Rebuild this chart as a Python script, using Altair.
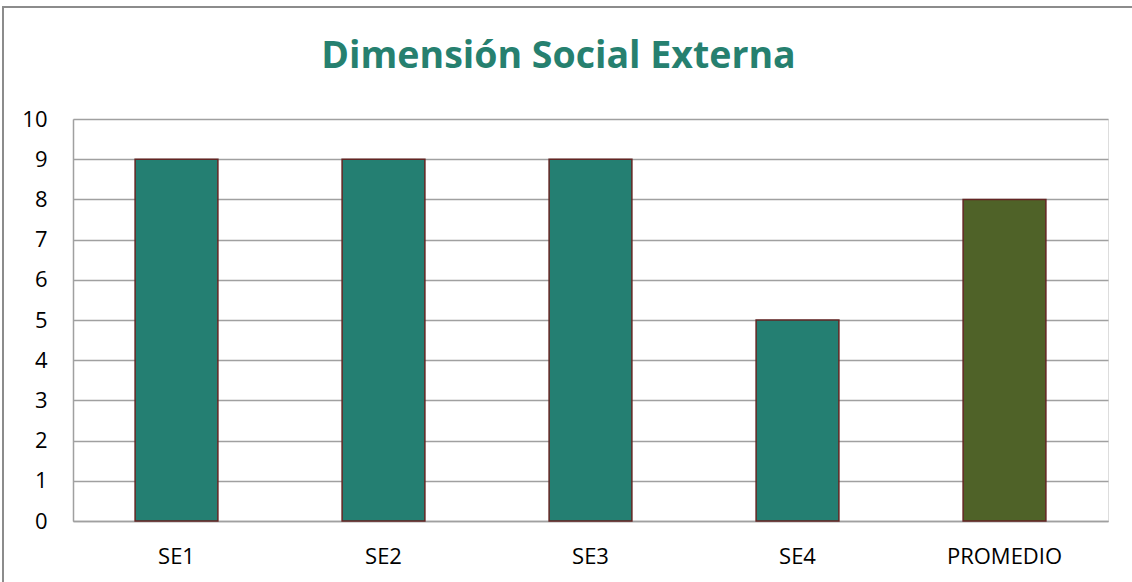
import altair as alt
import pandas as pd

categories = ["SE1", "SE2", "SE3", "SE4", "PROMEDIO"]
values = [9, 9, 9, 5, 8]
groups = ["item", "item", "item", "item", "promedio"]
y_ticks = list(range(0, 11))

df = pd.DataFrame({"cat": categories, "val": values, "grp": groups})

W, H = 1035, 402

bars = alt.Chart(df).mark_bar(stroke="#632523", strokeWidth=1.5).encode(
    x=alt.X("cat:N", sort=categories, title=None,
            scale=alt.Scale(paddingInner=0.6, paddingOuter=0.3),
            axis=alt.Axis(labelAngle=0, labelFont="Open Sans", labelFontSize=22,
                          labelColor="#000000", labelPadding=25, ticks=False,
                          domainColor="#A0A0A0", domainWidth=1.5, labelBaseline="top")),
    y=alt.Y("val:Q", title=None,
            scale=alt.Scale(domain=[0, 10], nice=False),
            axis=alt.Axis(values=y_ticks, labelFont="Open Sans", labelFontSize=22,
                          labelColor="#000000", labelPadding=26, ticks=False,
                          domainColor="#A0A0A0", domainWidth=1.5,
                          grid=True, gridColor="#A0A0A0", gridWidth=1.5)),
    color=alt.Color("grp:N", legend=None,
                    scale=alt.Scale(domain=["item", "promedio"], range=["#247F72", "#4F6228"])),
)

frame = alt.Chart(df).mark_rect(fill=None, stroke="#8C8C8C", strokeWidth=1.5, clip=False).encode(
    x=alt.value(-70), y=alt.value(-112), x2=alt.value(W + 200), y2=alt.value(H + 200)
)

chart = alt.layer(frame, bars).properties(
    width=W, height=H,
    title=alt.TitleParams("Dimensión Social Externa", font="Open Sans", fontSize=37.5,
                          fontWeight="bold", color="#26806F", anchor="middle",
                          baseline="alphabetic", offset=-99, dx=-32),
    autosize=alt.AutoSizeParams(type="none"),
    padding={"left": 73, "top": 119, "right": 24, "bottom": 61},
).configure_view(stroke=None).configure(background="white")

chart.save("out.html", embed_options={"renderer": "svg", "actions": False})
